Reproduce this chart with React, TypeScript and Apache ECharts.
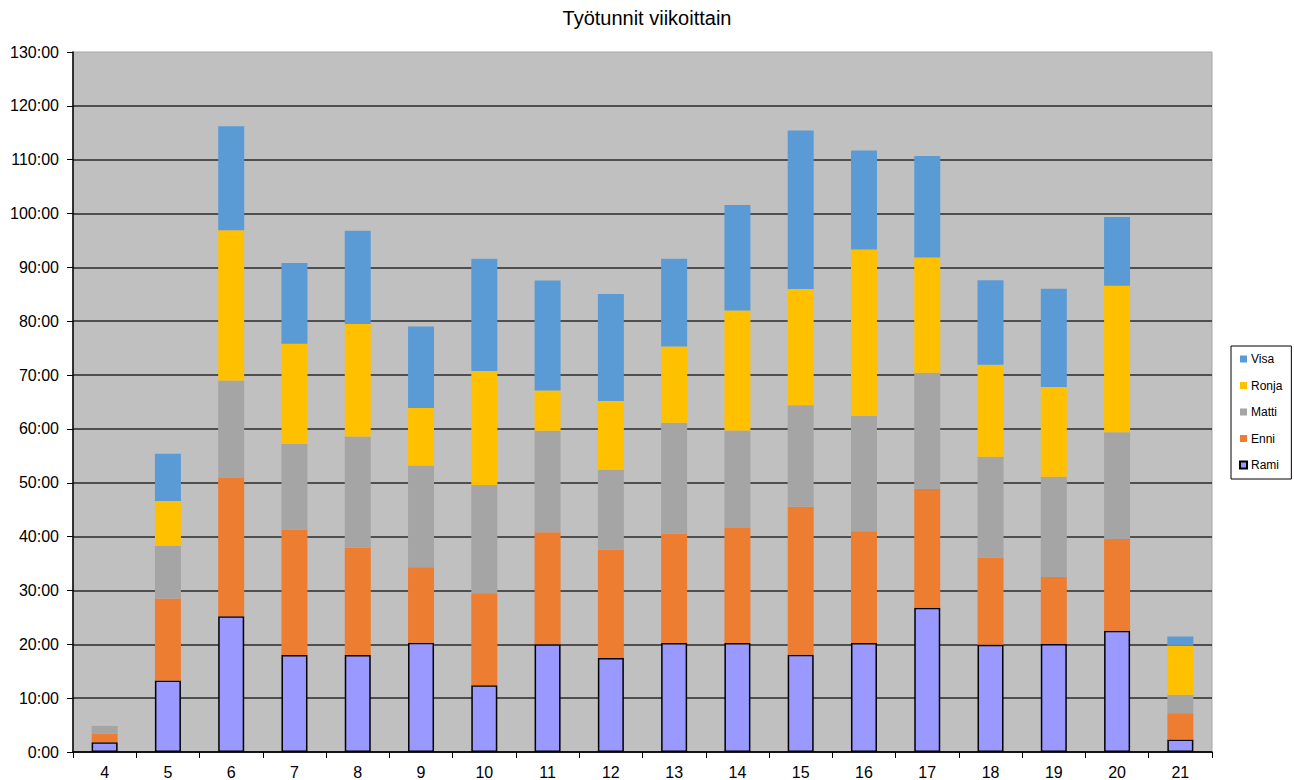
import React, { useEffect, useRef } from "react";
import * as echarts from "echarts";

const weeks = ["4", "5", "6", "7", "8", "9", "10", "11", "12", "13", "14", "15", "16", "17", "18", "19", "20", "21"];
const rami = [1.8, 13.3, 25.2, 18.0, 18.0, 20.3, 12.4, 20.0, 17.45, 20.25, 20.25, 18.05, 20.25, 26.8, 19.9, 20.05, 22.5, 2.3];
const enni = [1.6, 15.2, 25.7, 23.3, 20.0, 14.0, 17.1, 20.8, 20.15, 20.35, 21.35, 27.5, 20.75, 22.05, 16.2, 12.45, 17.05, 4.9];
const matti = [1.45, 9.8, 18.1, 15.9, 20.6, 18.9, 20.1, 18.85, 14.8, 20.55, 18.1, 18.85, 21.45, 21.6, 18.75, 18.6, 19.85, 3.45];
const ronja = [0, 8.3, 27.9, 18.6, 20.9, 10.7, 21.15, 7.5, 12.8, 14.15, 22.3, 21.6, 30.85, 21.4, 17.05, 16.7, 27.2, 9.1];
const visa = [0, 8.8, 19.3, 15.0, 17.3, 15.1, 20.85, 20.4, 19.85, 16.3, 19.6, 29.4, 18.4, 18.85, 15.7, 18.25, 12.75, 1.7];

const title = "Työtunnit viikoittain";
const seriesNames = ["Rami", "Enni", "Matti", "Ronja", "Visa"];
const legendOrder = ["Visa", "Ronja", "Matti", "Enni", "Rami"];
const colors = ["#9999FF", "#ED7D31", "#A5A5A5", "#FFC000", "#5B9BD5"];

const FONT = "'Liberation Sans', Arial, sans-serif";

export default function App() {
  const ref = useRef<HTMLDivElement>(null);
  useEffect(() => {
    document.body.style.margin = "0";
    if (!ref.current) return;
    const chart = echarts.init(ref.current, null, { renderer: "svg" });
    const data = [rami, enni, matti, ronja, visa];
    chart.setOption({
      animation: false,
      backgroundColor: "#FFFFFF",
      textStyle: { fontFamily: FONT },
      title: {
        text: title,
        left: "center",
        top: 3,
        textStyle: { fontFamily: FONT, fontSize: 20, fontWeight: "normal", color: "#000" },
      },
      legend: {
        data: legendOrder,
        orient: "vertical",
        left: 1231,
        top: 346,
        padding: [7, 9, 8, 8],
        itemWidth: 7,
        itemHeight: 7,
        itemGap: 14.5,
        backgroundColor: "#FFFFFF",
        borderColor: "#000",
        borderWidth: 1,
        borderRadius: 0,
        icon: "rect",
        textStyle: { fontFamily: FONT, fontSize: 12, color: "#000", padding: [0, 0, 0, -1] },
      },
      grid: {
        left: 73,
        top: 52,
        width: 1139,
        height: 700,
        show: true,
        backgroundColor: "#C0C0C0",
        borderColor: "#A6A6A6",
        borderWidth: 1,
        containLabel: false,
      },
      xAxis: {
        type: "category",
        data: weeks,
        boundaryGap: true,
        axisLine: { show: true, lineStyle: { color: "#000", width: 1.5 } },
        axisTick: { show: true, length: 6, interval: 0, alignWithLabel: false, lineStyle: { color: "#000" } },
        axisLabel: { fontFamily: FONT, fontSize: 16, color: "#000", margin: 12, interval: 0 },
        splitLine: { show: false },
      },
      yAxis: {
        type: "value",
        min: 0,
        max: 130,
        interval: 10,
        axisLine: { show: true, lineStyle: { color: "#000", width: 1.5 } },
        axisTick: { show: true, length: 6, lineStyle: { color: "#000" } },
        axisLabel: {
          fontFamily: FONT,
          fontSize: 16,
          color: "#000",
          margin: 14,
          formatter: (v: number) => `${v}:00`,
        },
        splitLine: { show: true, showMaxLine: false, lineStyle: { color: "#2A2A2A", width: 1.5 } },
      },
      series: seriesNames.map((name, i) => ({
        name,
        type: "bar",
        stack: "total",
        barWidth: 26,
        data: data[i],
        itemStyle:
          i === 0
            ? { color: colors[i], borderColor: "#000", borderWidth: 1.5 }
            : { color: colors[i] },
        emphasis: { disabled: true },
      })),
    });
    return () => chart.dispose();
  }, []);
  return <div ref={ref} style={{ width: 1294, height: 780 }} />;
}
